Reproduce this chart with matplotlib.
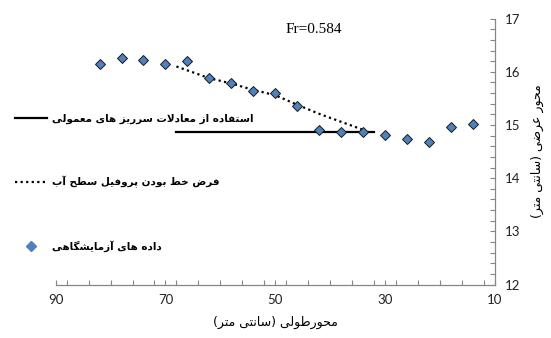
import matplotlib
matplotlib.use("Agg")
import matplotlib.pyplot as plt
from matplotlib.lines import Line2D
from matplotlib.ticker import MultipleLocator

# Measured water surface along the channel (distance in cm, width in cm)
stations = [82, 78, 74, 70, 66, 62, 58, 54, 50, 46, 42, 38, 34, 30, 26, 22, 18, 14]
measured = [16.15, 16.25, 16.22, 16.15, 16.20, 15.88, 15.78, 15.64, 15.60,
            15.35, 14.90, 14.87, 14.87, 14.81, 14.74, 14.68, 14.97, 15.02]

# Linear water-surface assumption
linear_x = [68, 62, 58, 54, 50, 46, 42, 38, 34]
linear_y = [16.10, 15.88, 15.78, 15.66, 15.56, 15.38, 15.21, 15.06, 14.91]

# Conventional side-weir equations
weir_x = [68, 32]
weir_y = [14.87, 14.87]

froude = 0.584

label_weir = "استفاده از معادلات سرریز های معمولی"
label_linear = "فرض خط بودن پروفیل سطح آب"
label_data = "داده های آزمایشگاهی"
xlabel = "محورطولی (سانتی متر)"
ylabel = "محور عرضی (سانتی متر)"

xticks = [90, 70, 50, 30, 10]
yticks = [12, 13, 14, 15, 16, 17]


# --- minimal Arabic-script shaping (matplotlib has no complex text layout) ---
# letter: (isolated, final, initial, medial); None = does not join the next letter
FORMS = {
    "ا": ("\uFE8D", "\uFE8E", None, None),
    "آ": ("\uFE81", "\uFE82", None, None),
    "ب": ("\uFE8F", "\uFE90", "\uFE91", "\uFE92"),
    "پ": ("\uFB56", "\uFB57", "\uFB58", "\uFB59"),
    "ت": ("\uFE95", "\uFE96", "\uFE97", "\uFE98"),
    "ح": ("\uFEA1", "\uFEA2", "\uFEA3", "\uFEA4"),
    "خ": ("\uFEA5", "\uFEA6", "\uFEA7", "\uFEA8"),
    "د": ("\uFEA9", "\uFEAA", None, None),
    "ر": ("\uFEAD", "\uFEAE", None, None),
    "ز": ("\uFEAF", "\uFEB0", None, None),
    "س": ("\uFEB1", "\uFEB2", "\uFEB3", "\uFEB4"),
    "ش": ("\uFEB5", "\uFEB6", "\uFEB7", "\uFEB8"),
    "ض": ("\uFEBD", "\uFEBE", "\uFEBF", "\uFEC0"),
    "ط": ("\uFEC1", "\uFEC2", "\uFEC3", "\uFEC4"),
    "ع": ("\uFEC9", "\uFECA", "\uFECB", "\uFECC"),
    "ف": ("\uFED1", "\uFED2", "\uFED3", "\uFED4"),
    "گ": ("\uFB92", "\uFB93", "\uFB94", "\uFB95"),
    "ل": ("\uFEDD", "\uFEDE", "\uFEDF", "\uFEE0"),
    "م": ("\uFEE1", "\uFEE2", "\uFEE3", "\uFEE4"),
    "ن": ("\uFEE5", "\uFEE6", "\uFEE7", "\uFEE8"),
    "ه": ("\uFEE9", "\uFEEA", "\uFEEB", "\uFEEC"),
    "و": ("\uFEED", "\uFEEE", None, None),
    "ی": ("\uFBFC", "\uFBFD", "\uFBFE", "\uFBFF"),
}
LAM_ALEF = {"\uE000": ("\uFEFB", "\uFEFC"), "\uE001": ("\uFEF5", "\uFEF6")}
MIRROR = {"(": ")", ")": "("}


def joins_next(c):
    return c in FORMS and FORMS[c][2] is not None


def rtl(text):
    s = text.replace("لا", "\uE000").replace("لآ", "\uE001")
    out = []
    for i, c in enumerate(s):
        prev = s[i - 1] if i > 0 else ""
        nxt = s[i + 1] if i + 1 < len(s) else ""
        if c in LAM_ALEF:
            iso, fin = LAM_ALEF[c]
            out.append(fin if joins_next(prev) else iso)
        elif c in FORMS:
            iso, fin, ini, med = FORMS[c]
            after = joins_next(prev)
            before = ini is not None and (nxt in FORMS or nxt in LAM_ALEF)
            if after and before:
                out.append(med)
            elif after:
                out.append(fin)
            elif before:
                out.append(ini)
            else:
                out.append(iso)
        else:
            out.append(MIRROR.get(c, c))
    return "".join(reversed(out))


fig = plt.figure(figsize=(5.51, 3.38), dpi=100)
ax = fig.add_axes([0.101, 0.158, 0.797, 0.787])

dotted = (0, (1, 1.5))
ax.plot(weir_x, weir_y, color="black", lw=1.6, zorder=2)
ax.plot(linear_x, linear_y, color="black", lw=1.6, ls=dotted, zorder=2)
ax.plot(stations, measured, ls="none", marker="D", ms=5, mfc="#4F81BD",
        mec="#1a1a1a", mew=0.7, zorder=3)

ax.set_xlim(90, 10)
ax.set_ylim(12, 17)

spine_color = "#868686"
for side in ("left", "top"):
    ax.spines[side].set_visible(False)
for side in ("right", "bottom"):
    ax.spines[side].set_color(spine_color)
    ax.spines[side].set_linewidth(0.9)

ax.yaxis.tick_right()
ax.yaxis.set_label_position("right")
ax.set_xticks(xticks)
ax.set_yticks(yticks)
ax.xaxis.set_minor_locator(MultipleLocator(4))
ax.yaxis.set_minor_locator(MultipleLocator(0.2))
ax.tick_params(which="both", direction="in", length=3.5, width=0.8,
               color=spine_color)
ax.tick_params(which="major", labelsize=9.5, labelcolor="#222222", pad=7)
for lab in ax.get_xticklabels() + ax.get_yticklabels():
    lab.set_family("Lato")

ax.set_xlabel(rtl(xlabel), fontsize=9, family="DejaVu Sans", labelpad=7)
ax.set_ylabel(rtl(ylabel), fontsize=9, family="DejaVu Sans", rotation=90,
              labelpad=8)

ax.text(0.587, 0.96, f"Fr={froude}", transform=ax.transAxes, ha="center",
        va="center", fontsize=11, family="Liberation Serif")

handles = [
    Line2D([], [], color="black", lw=1.6),
    Line2D([], [], color="black", lw=1.6, ls=dotted),
    Line2D([], [], ls="none", marker="D", ms=5, mfc="#4F81BD", mec="#4F81BD"),
]
labels = [rtl(label_weir), rtl(label_linear), rtl(label_data)]
fig.legend(handles, labels, loc="upper left", bbox_to_anchor=(0.027, 0.664),
           frameon=False, borderpad=0, borderaxespad=0, handlelength=3.1,
           handletextpad=0.45, labelspacing=5.0,
           prop={"family": "DejaVu Sans", "weight": "bold", "size": 7.5})

fig.savefig("out.png", dpi=100)
